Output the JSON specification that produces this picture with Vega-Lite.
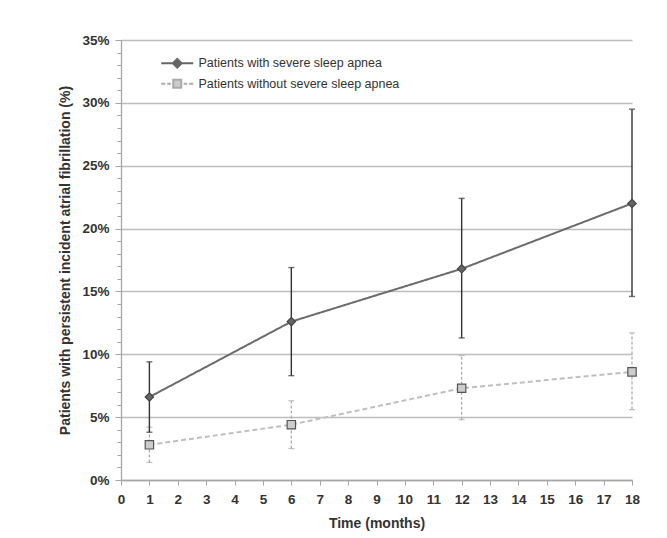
{
  "$schema": "https://vega.github.io/schema/vega-lite/v6.json",
  "width": 511,
  "height": 440,
  "autosize": {"type": "none"},
  "padding": {"left": 121, "top": 40, "right": 35, "bottom": 58},
  "background": "white",
  "config": {"view": {"stroke": null}, "font": "Liberation Sans", "axis": {"labelOverlap": false, "labelSeparation": 0}, "axisX": {"labelOverlap": false, "labelFlush": false}},
  "data": {
    "values": [
      {"series": "Patients without severe sleep apnea", "month": 1, "pct": 0.028, "lo": 0.014, "hi": 0.042},
      {"series": "Patients without severe sleep apnea", "month": 6, "pct": 0.044, "lo": 0.025, "hi": 0.063},
      {"series": "Patients without severe sleep apnea", "month": 12, "pct": 0.073, "lo": 0.048, "hi": 0.099},
      {"series": "Patients without severe sleep apnea", "month": 18, "pct": 0.086, "lo": 0.056, "hi": 0.117},
      {"series": "Patients with severe sleep apnea", "month": 1, "pct": 0.066, "lo": 0.038, "hi": 0.094},
      {"series": "Patients with severe sleep apnea", "month": 6, "pct": 0.126, "lo": 0.083, "hi": 0.169},
      {"series": "Patients with severe sleep apnea", "month": 12, "pct": 0.168, "lo": 0.113, "hi": 0.224},
      {"series": "Patients with severe sleep apnea", "month": 18, "pct": 0.220, "lo": 0.146, "hi": 0.295}
    ]
  },
  "encoding": {
    "x": {"field": "month", "type": "quantitative", "scale": {"domain": [0, 18], "nice": false},
      "axis": {"values": [0,1,2,3,4,5,6,7,8,9,10,11,12,13,14,15,16,17,18], "labelOverlap": false, "labelSeparation": 0, "labelFlush": false, "labelBound": false, "grid": false, "domainColor": "#a6a6a6", "domainWidth": 1.3, "tickColor": "#a6a6a6", "tickSize": 5, "labelFontSize": 13.5, "labelFontWeight": "bold", "labelColor": "#333333", "labelPadding": 7, "title": "Time (months)", "titleFontSize": 14, "titleFontWeight": "bold", "titleColor": "#333333", "titlePadding": 11}}
  },
  "resolve": {"axis": {"y": "independent"}, "scale": {"shape": "independent", "fill": "independent", "stroke": "independent"}},
  "layer": [
    {
      "transform": [{"filter": "datum.series === 'Patients without severe sleep apnea'"}],
      "mark": {"type": "rule", "color": "#a8a8a8", "strokeWidth": 1.2, "strokeDash": [3, 2]},
      "encoding": {
        "y": {"field": "lo", "type": "quantitative", "scale": {"domain": [0, 0.35], "nice": false},
          "axis": {"orient": "left", "values": [0, 0.05, 0.1, 0.15, 0.2, 0.25, 0.3, 0.35], "format": ".0%", "grid": true, "gridColor": "#bdbdbd", "gridWidth": 1.5, "domainColor": "#a6a6a6", "domainWidth": 1.3, "tickColor": "#a6a6a6", "tickSize": 6, "labelFontSize": 13.5, "labelFontWeight": "bold", "labelColor": "#333333", "labelPadding": 6, "title": "Patients with persistent incident atrial fibrillation (%)", "titleFontSize": 14, "titleFontWeight": "bold", "titleColor": "#333333", "titlePadding": 9}},
        "y2": {"field": "hi"}
      }
    },
    {
      "transform": [{"filter": "datum.series === 'Patients without severe sleep apnea'"}, {"fold": ["lo", "hi"], "as": ["k", "v"]}],
      "mark": {"type": "tick", "orient": "horizontal", "color": "#a8a8a8", "size": 6, "thickness": 1.2},
      "encoding": {
        "y": {"field": "v", "type": "quantitative",
          "axis": {"orient": "left", "values": [0,0.01,0.02,0.03,0.04,0.05,0.06,0.07,0.08,0.09,0.1,0.11,0.12,0.13,0.14,0.15,0.16,0.17,0.18,0.19,0.2,0.21,0.22,0.23,0.24,0.25,0.26,0.27,0.28,0.29,0.3,0.31,0.32,0.33,0.34,0.35], "labels": false, "domain": false, "grid": false, "tickColor": "#a6a6a6", "tickSize": 4, "title": null}}
      }
    },
    {
      "transform": [{"filter": "datum.series === 'Patients with severe sleep apnea'"}],
      "mark": {"type": "rule", "color": "#333333", "strokeWidth": 1.4},
      "encoding": {
        "y": {"field": "lo", "type": "quantitative", "axis": null},
        "y2": {"field": "hi"}
      }
    },
    {
      "transform": [{"filter": "datum.series === 'Patients with severe sleep apnea'"}, {"fold": ["lo", "hi"], "as": ["k", "v"]}],
      "mark": {"type": "tick", "orient": "horizontal", "color": "#333333", "size": 6, "thickness": 1.4},
      "encoding": {
        "y": {"field": "v", "type": "quantitative", "axis": null}
      }
    },
    {
      "mark": {"type": "line", "strokeWidth": 2},
      "encoding": {
        "y": {"field": "pct", "type": "quantitative", "axis": null},
        "color": {"field": "series", "type": "nominal",
          "scale": {"domain": ["Patients with severe sleep apnea", "Patients without severe sleep apnea"], "range": ["#6b6b6b", "#bfbfbf"]},
          "legend": null},
        "strokeDash": {"field": "series", "type": "nominal",
          "scale": {"domain": ["Patients with severe sleep apnea", "Patients without severe sleep apnea"], "range": [[1, 0], [5, 3]]},
          "legend": null}
      }
    },
    {
      "mark": {"type": "point", "filled": true, "opacity": 1, "strokeWidth": 1.2},
      "encoding": {
        "y": {"field": "pct", "type": "quantitative", "axis": null},
        "shape": {"field": "series", "type": "nominal",
          "scale": {"domain": ["Patients with severe sleep apnea", "Patients without severe sleep apnea"], "range": ["diamond", "square"]}, "legend": null},
        "fill": {"field": "series", "type": "nominal",
          "scale": {"domain": ["Patients with severe sleep apnea", "Patients without severe sleep apnea"], "range": ["#666666", "#cccccc"]}, "legend": null},
        "stroke": {"field": "series", "type": "nominal",
          "scale": {"domain": ["Patients with severe sleep apnea", "Patients without severe sleep apnea"], "range": ["#444444", "#555555"]}, "legend": null},
        "size": {"value": 70}
      }
    },
    {
      "transform": [{"filter": "false"}],
      "mark": {"type": "point", "filled": true, "opacity": 1, "strokeWidth": 2},
      "encoding": {
        "y": {"field": "pct", "type": "quantitative", "axis": null},
        "shape": {"field": "series", "type": "nominal",
          "scale": {"domain": ["Patients with severe sleep apnea", "Patients without severe sleep apnea"], "range": ["M-4,0H4M0,-1.1L1.1,0L0,1.1L-1.1,0Z", "M-4,0H-3M-2.5,0H-1.6M-1,-1H1V1H-1ZM1.6,0H2.5M3,0H4"]},
          "legend": {"orient": "none", "legendX": 50, "legendY": 17, "title": null, "padding": 0, "symbolSize": 64, "symbolStrokeWidth": 2, "labelOffset": 15, "rowPadding": 3.5, "labelFontSize": 12.5, "labelColor": "#333333", "labelLimit": 0}},
        "fill": {"field": "series", "type": "nominal",
          "scale": {"domain": ["Patients with severe sleep apnea", "Patients without severe sleep apnea"], "range": ["#666666", "#cccccc"]},
          "legend": {"orient": "none", "legendX": 50, "legendY": 17, "title": null, "padding": 0, "symbolSize": 64, "symbolStrokeWidth": 2, "labelOffset": 15, "rowPadding": 3.5, "labelFontSize": 12.5, "labelColor": "#333333", "labelLimit": 0}},
        "stroke": {"field": "series", "type": "nominal",
          "scale": {"domain": ["Patients with severe sleep apnea", "Patients without severe sleep apnea"], "range": ["#666666", "#aaaaaa"]},
          "legend": {"orient": "none", "legendX": 50, "legendY": 17, "title": null, "padding": 0, "symbolSize": 64, "symbolStrokeWidth": 2, "labelOffset": 15, "rowPadding": 3.5, "labelFontSize": 12.5, "labelColor": "#333333", "labelLimit": 0}},
        "size": {"value": 64}
      }
    }
  ]
}
